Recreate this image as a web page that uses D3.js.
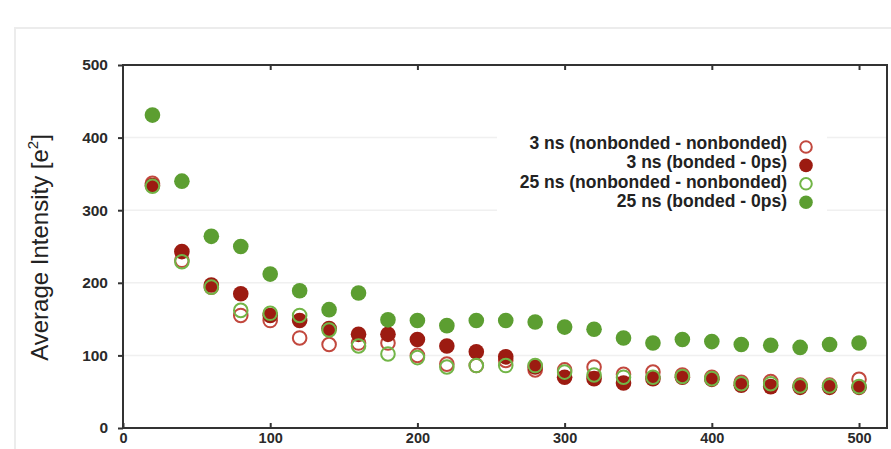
<html>
<script src='https://d3js.org/d3.v7.min.js'></script>
<style>
body {margin:0; background:#fff;}
text {font-family: 'Liberation Sans', Arial, sans-serif;}
</style>
<body onload='init()'>
<svg width=891 height=449></svg>
<script>
var xs20 = [20,40,60,80,100,120,140,160,180,200,220,240,260,280,300,320,340,360,380,400,420,440,460,480,500];
var s3nn = [337,231,194,155,148,124,115,117,117,100,88,86,93,80,80,84,74,77,73,70,63,64,59,59,67];
var s3b  = [334,243,197,185,155,148,137,129,129,122,113,105,98,84,70,68,62,68,70,67,59,57,56,56,56];
var s25nn= [333,229,194,162,158,155,135,113,102,97,84,86,86,86,77,73,70,70,71,68,61,61,58,58,57];
var s25b = [431,340,264,250,212,189,163,186,149,148,141,148,148,146,139,136,124,117,122,119,115,114,111,115,117];
var legendLabels = ['3 ns (nonbonded - nonbonded)','3 ns (bonded - 0ps)','25 ns (nonbonded - nonbonded)','25 ns (bonded - 0ps)'];
var yTicks = [0,100,200,300,400,500];
var xTicks = [0,100,200,300,400,500];

function init() {
var svg = d3.select('svg');
var left = 123, right = 887, top = 65, bottom = 428;

var red = '#9c1b11', redLight = '#c2483e', green = '#5c9e31', greenLight = '#72b547';

var x = d3.scaleLinear().domain([0, 519]).range([left, right]);
var y = d3.scaleLinear().domain([0, 500]).range([bottom, top]);

// card
svg.append('rect').attr('x', 15).attr('y', 28).attr('width', 900).attr('height', 450)
  .attr('fill', '#fff').attr('stroke', '#ececec').attr('stroke-width', 2);

// faint grid
svg.append('g').selectAll('line').data([100,200,300,400]).enter().append('line')
  .attr('x1', left).attr('x2', right).attr('y1', d => y(d)).attr('y2', d => y(d))
  .attr('stroke', '#f0f0f0').attr('stroke-width', 1.5);

// legend background
svg.append('rect').attr('x', 497).attr('y', 128).attr('width', 330).attr('height', 84).attr('fill', '#fff');

var series = [
  {v: s3nn, fill: 'none', stroke: redLight},
  {v: s3b, fill: red, stroke: 'none'},
  {v: s25nn, fill: 'none', stroke: greenLight},
  {v: s25b, fill: green, stroke: 'none'}
];

series.forEach(function(s) {
  svg.append('g').selectAll('circle').data(s.v).enter().append('circle')
    .attr('cx', (d, i) => x(xs20[i]))
    .attr('cy', d => y(d))
    .attr('r', s.fill == 'none' ? 6.8 : 7.8)
    .attr('fill', s.fill)
    .attr('stroke', s.stroke)
    .attr('stroke-width', 2);
});

// frame
svg.append('rect').attr('x', left).attr('y', top).attr('width', right - left).attr('height', bottom - top)
  .attr('fill', 'none').attr('stroke', '#333').attr('stroke-width', 2);

var yAxis = d3.axisLeft(y).tickValues(yTicks).tickSize(5).tickPadding(10);
var gy = svg.append('g').attr('transform', 'translate(' + left + ',0)').call(yAxis);
var xAxis = d3.axisBottom(x).tickValues(xTicks).tickSizeInner(-5).tickSizeOuter(0).tickPadding(5);
var gx = svg.append('g').attr('transform', 'translate(0,' + bottom + ')').call(xAxis);
var xTop = d3.axisTop(x).tickValues(xTicks.slice(1)).tickSizeInner(-5).tickSizeOuter(0).tickFormat('');
var gt = svg.append('g').attr('transform', 'translate(0,' + top + ')').call(xTop);
[gy, gx, gt].forEach(function(g) {
  g.select('.domain').remove();
  g.selectAll('line').attr('stroke', '#333').attr('stroke-width', 2);
  g.selectAll('text').attr('fill', '#2a2a2a').attr('font-size', 15.5).attr('font-weight', 'bold')
   .style('font-family', "'Liberation Sans', Arial, sans-serif");
});
gx.selectAll('text').attr('font-size', 14.5);

// y title
var t = svg.append('text').attr('transform', 'translate(48,' + ((top + bottom) / 2 + 1) + ') rotate(-90)')
  .attr('text-anchor', 'middle').attr('font-size', 24).attr('fill', '#222');
t.append('tspan').text('Average Intensity [e');
t.append('tspan').attr('font-size', 15).attr('dy', -10).text('2');
t.append('tspan').attr('dy', 10).text(']');

// legend
var lg = svg.append('g');
var kinds = [
  {fill: 'none', stroke: redLight},
  {fill: red, stroke: 'none'},
  {fill: 'none', stroke: greenLight},
  {fill: green, stroke: 'none'}
];
lg.selectAll('text').data(legendLabels).enter().append('text')
  .attr('x', 787).attr('y', (d, i) => 143 + i * 19.2).attr('dy', '0.35em')
  .attr('text-anchor', 'end').attr('font-size', 17.5).attr('font-weight', 'bold').attr('fill', '#222')
  .text(d => d);
lg.selectAll('circle').data(kinds).enter().append('circle')
  .attr('cx', 806).attr('cy', (d, i) => 147 + i * 18.4)
  .attr('r', d => d.fill == 'none' ? 5.8 : 6.8)
  .attr('fill', d => d.fill).attr('stroke', d => d.stroke).attr('stroke-width', 2);
}
</script>
</body>
</html>
